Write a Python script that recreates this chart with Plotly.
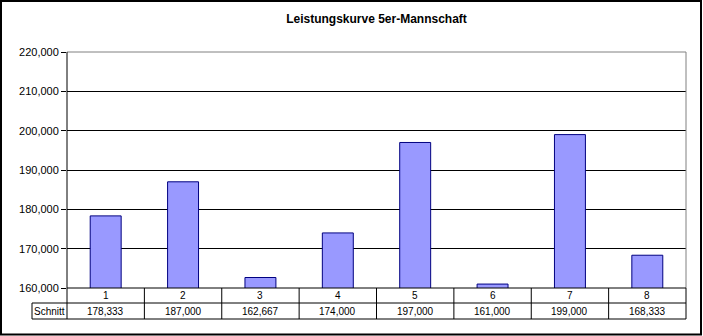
import plotly.graph_objects as go

categories = ["1", "2", "3", "4", "5", "6", "7", "8"]
schnitt = [178333, 187000, 162667, 174000, 197000, 161000, 199000, 168333]
row_label = "Schnitt"
title_text = "Leistungskurve 5er-Mannschaft"
y_min, y_max, y_step = 160000, 220000, 10000

W_FIG, H_FIG = 703, 336
L, R, T, B = 67, 17, 52, 48
PW = W_FIG - L - R
PH = H_FIG - T - B


def px(x):
    return (x - L) / PW


def py(y):
    return (H_FIG - B - y) / PH


def fmt(v):
    return f"{v:,}"


n = len(categories)
FONT = "Liberation Sans, Arial, sans-serif"

fig = go.Figure()
fig.add_trace(go.Bar(
    x=list(range(1, n + 1)),
    y=schnitt,
    width=0.4,
    marker=dict(color="#9999FF", line=dict(color="#000080", width=1)),
    hoverinfo="skip",
))

shapes = []
line_black = dict(color="black", width=1)
row1_bottom = 303
row2_bottom = 319
schnitt_left = 32
shapes.append(dict(type="line", xref="paper", yref="paper", x0=px(schnitt_left), x1=1,
                   y0=py(row1_bottom), y1=py(row1_bottom), line=line_black))
shapes.append(dict(type="line", xref="paper", yref="paper", x0=px(schnitt_left), x1=1,
                   y0=py(row2_bottom), y1=py(row2_bottom), line=line_black))
for i in range(n + 1):
    xp = i / n
    shapes.append(dict(type="line", xref="paper", yref="paper", x0=xp, x1=xp,
                       y0=0, y1=py(row2_bottom), line=line_black))
shapes.append(dict(type="line", xref="paper", yref="paper", x0=px(schnitt_left), x1=px(schnitt_left),
                   y0=py(row1_bottom), y1=py(row2_bottom), line=line_black))
shapes.append(dict(type="line", xref="paper", yref="paper", x0=0, x1=1, y0=1, y1=1,
                   line=dict(color="#808080", width=1), layer="above"))
shapes.append(dict(type="line", xref="paper", yref="paper", x0=1, x1=1, y0=0, y1=1,
                   line=dict(color="#808080", width=1), layer="above"))
shapes.append(dict(type="line", xref="paper", yref="paper", x0=0, x1=0, y0=0, y1=1,
                   line=line_black, layer="above"))
shapes.append(dict(type="line", xref="paper", yref="paper", x0=0, x1=1, y0=0, y1=0,
                   line=line_black, layer="above"))
shapes.append(dict(type="rect", xref="paper", yref="paper",
                   x0=px(1), x1=px(701), y0=py(1), y1=py(334.5),
                   line=dict(color="black", width=2), fillcolor="rgba(0,0,0,0)"))

annotations = []
for i, (c, v) in enumerate(zip(categories, schnitt)):
    annotations.append(dict(x=i + 1, xref="x", y=py((288 + row1_bottom) / 2), yref="paper",
                            text=c, showarrow=False, xanchor="center", yanchor="middle",
                            font=dict(family=FONT, size=10, color="black")))
    annotations.append(dict(x=i + 1, xref="x", y=py((row1_bottom + row2_bottom) / 2), yref="paper",
                            text=fmt(v), showarrow=False, xanchor="center", yanchor="middle",
                            font=dict(family=FONT, size=10, color="black")))
annotations.append(dict(x=px((schnitt_left + L) / 2), xref="paper",
                        y=py((row1_bottom + row2_bottom) / 2), yref="paper",
                        text=row_label, showarrow=False, xanchor="center", yanchor="middle",
                        font=dict(family=FONT, size=10, color="black")))

fig.update_layout(
    width=W_FIG, height=H_FIG,
    margin=dict(l=L, r=R, t=T, b=B, pad=0),
    paper_bgcolor="white", plot_bgcolor="white",
    showlegend=False,
    title=dict(text=f"<b>{title_text}</b>", x=0.5, xref="paper", xanchor="center",
               y=1 - 19 / H_FIG, yref="container", yanchor="middle",
               font=dict(family=FONT, size=12, color="black")),
    xaxis=dict(range=[0.5, n + 0.5], showticklabels=False, showgrid=False,
               zeroline=False, showline=False, ticks="", fixedrange=True),
    yaxis=dict(range=[y_min, y_max], dtick=y_step, tick0=y_min, tickformat=",d",
               showgrid=True, gridcolor="black", gridwidth=1, zeroline=False,
               showline=False, ticks="outside", ticklen=5, tickcolor="black",
               tickfont=dict(family=FONT, size=11, color="black"), fixedrange=True),
    shapes=shapes,
    annotations=annotations,
)

fig.write_html("out.html")
